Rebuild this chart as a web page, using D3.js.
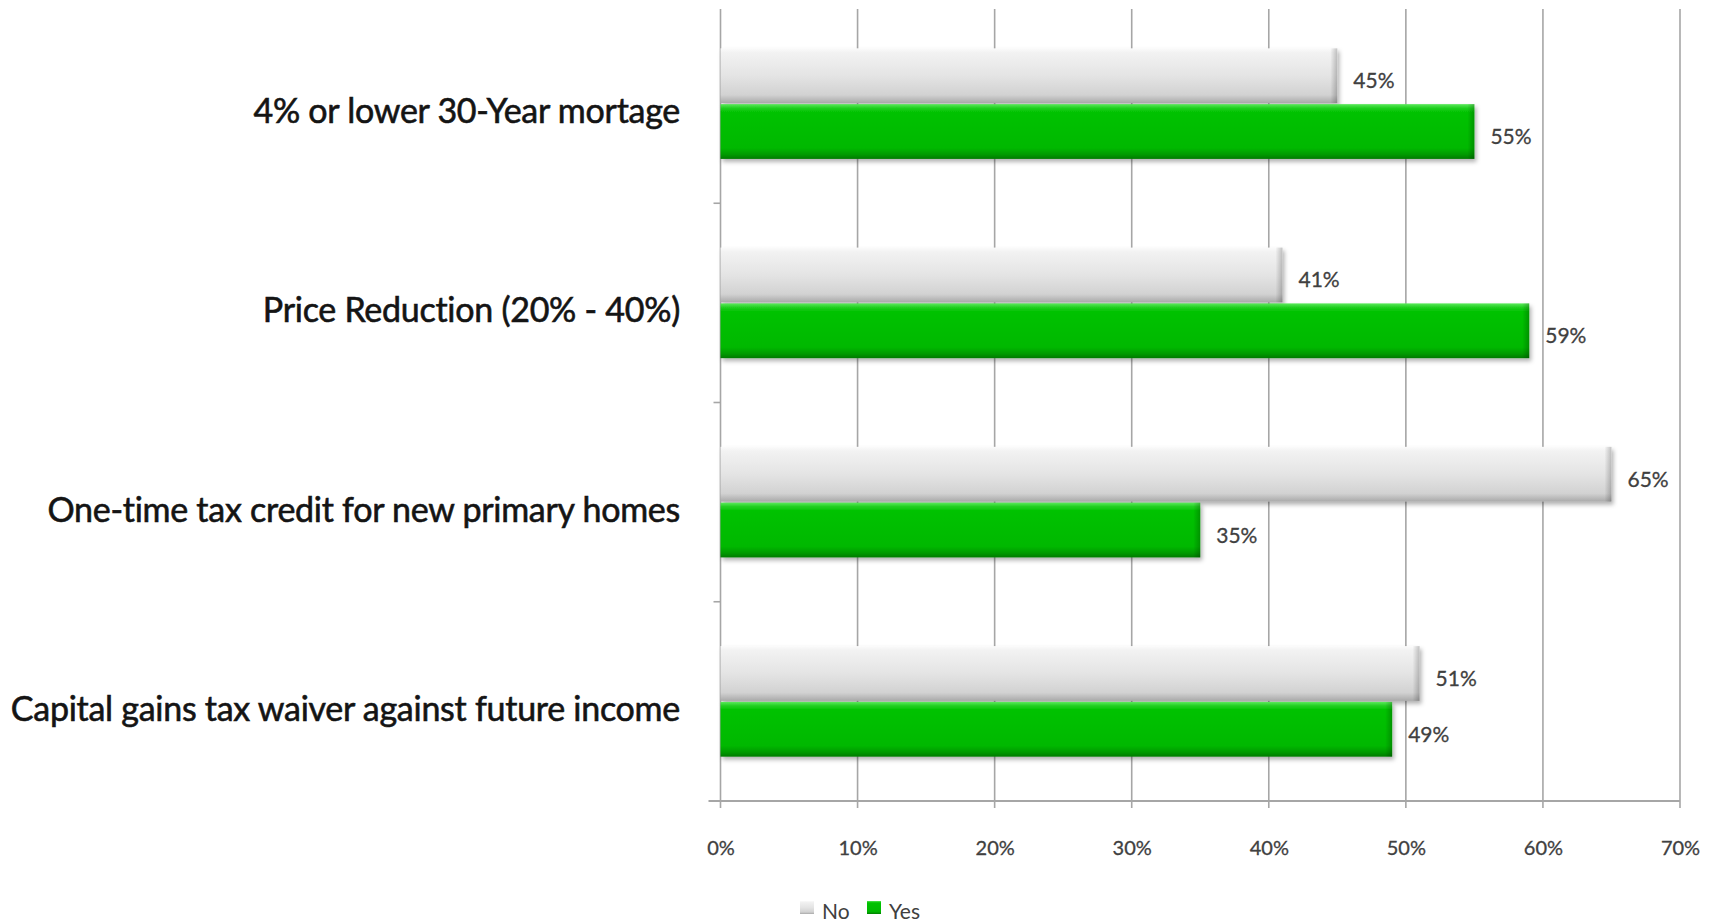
<!DOCTYPE html>
<html><head><meta charset="utf-8">
<script src="https://cdn.jsdelivr.net/npm/d3@7"></script>
<style>
html,body{margin:0;padding:0;background:#fff;}
svg{display:block;}
</style></head>
<body>
<svg id="chart" width="1715" height="924"></svg>
<script>
const categories = ["4% or lower 30-Year mortage", "Price Reduction (20% - 40%)", "One-time tax credit for new primary homes", "Capital gains tax waiver against future income"];
const seriesNames = ["No", "Yes"];
const noValues = [45, 41, 65, 51];
const yesValues = [55, 59, 35, 49];
const xTicks = [0, 10, 20, 30, 40, 50, 60, 70];

const svg = d3.select("#chart");
const x0 = 720.5, x1 = 1680, yTop = 4, yBot = 801, gridTop = 9;

const x = d3.scaleLinear().domain([0, 70]).range([x0, x1]);
const y0 = d3.scaleBand().domain(categories).range([yTop, yBot]).paddingInner(0.44).paddingOuter(0.22);
const y1 = d3.scaleBand().domain(seriesNames).range([0, y0.bandwidth()]).padding(0);

const defs = svg.append("defs");
function vgrad(id, stops){
  const g = defs.append("linearGradient").attr("id", id).attr("x1",0).attr("y1",0).attr("x2",0).attr("y2",1);
  stops.forEach(s => g.append("stop").attr("offset", s[0]).attr("stop-color", s[1]));
}
vgrad("gNo", [[0,"#fbfbfb"],[0.08,"#f2f2f2"],[0.5,"#e4e4e4"],[0.85,"#d2d2d2"],[1,"#a9a9a9"]]);
vgrad("gYes", [[0,"#5cea5c"],[0.07,"#22d022"],[0.15,"#00c200"],[0.8,"#00b800"],[0.92,"#009a00"],[1,"#007a00"]]);
const hg = defs.append("linearGradient").attr("id","gEnd").attr("x1",0).attr("y1",0).attr("x2",1).attr("y2",0);
hg.append("stop").attr("offset",0).attr("stop-color","#000").attr("stop-opacity",0);
hg.append("stop").attr("offset",1).attr("stop-color","#000").attr("stop-opacity",0.22);
const f = defs.append("filter").attr("id","shadow").attr("x","-5%").attr("y","-20%").attr("width","110%").attr("height","150%");
f.append("feDropShadow").attr("dx",2).attr("dy",3).attr("stdDeviation",2).attr("flood-color","#000").attr("flood-opacity",0.3);

// gridlines
const xAxis = d3.axisBottom(x).tickValues(xTicks).tickFormat(d => d + "%").tickSize(0);
svg.append("g").selectAll("line.grid").data(xTicks.slice(1)).join("line")
  .attr("x1", d => x(d)).attr("x2", d => x(d)).attr("y1", gridTop).attr("y2", yBot + 7)
  .attr("stroke", "#a6a6a6").attr("stroke-width", 1.6);

// left axis line
svg.append("line").attr("x1", x0).attr("x2", x0).attr("y1", gridTop).attr("y2", yBot + 7)
  .attr("stroke", "#a6a6a6").attr("stroke-width", 1.6);
// category separator ticks
const step = y0.step();
const sepY = d3.range(1, categories.length).map(i => yTop + step * i);
svg.append("g").selectAll("line").data(sepY).join("line")
  .attr("x1", x0 - 7).attr("x2", x0).attr("y1", d => d).attr("y2", d => d)
  .attr("stroke", "#a6a6a6").attr("stroke-width", 1.6);

// bottom axis
const gx = svg.append("g").attr("transform", `translate(0,${yBot})`).call(xAxis);
gx.select(".domain").attr("stroke", "#a6a6a6").attr("stroke-width", 2.2).attr("d", `M${x0-12},0H${x1}`);
gx.selectAll(".tick text").attr("font-family", "Lato, 'Open Sans', sans-serif").attr("font-size", 20)
  .attr("fill", "#404040").attr("stroke", "#404040").attr("stroke-width", 0.3)
  .attr("dy", 0).attr("y", 46).attr("dominant-baseline", "central");

// bars
const data = categories.map((c, i) => ({cat: c, vals: [{s: "No", v: noValues[i]}, {s: "Yes", v: yesValues[i]}]}));
const groups = svg.append("g").selectAll("g").data(data).join("g")
  .attr("transform", d => `translate(0,${y0(d.cat)})`);
const bars = groups.selectAll("g.bar").data(d => d.vals).join("g").attr("class","bar");
bars.append("rect")
  .attr("x", x0).attr("y", d => y1(d.s) + 0.5)
  .attr("width", d => x(d.v) - x0).attr("height", y1.bandwidth() - 1)
  .attr("fill", d => d.s === "No" ? "url(#gNo)" : "url(#gYes)")
  .attr("filter", "url(#shadow)");
bars.append("rect")
  .attr("x", d => x(d.v) - 7).attr("y", d => y1(d.s) + 0.5)
  .attr("width", 7).attr("height", y1.bandwidth() - 1)
  .attr("fill", "url(#gEnd)");
bars.append("text")
  .attr("x", d => x(d.v) + 16).attr("y", d => y1(d.s) + y1.bandwidth() / 2 + 4)
  .attr("dominant-baseline", "central")
  .attr("font-family", "Lato, 'Open Sans', sans-serif").attr("font-size", 21)
  .attr("fill", "#404040").attr("stroke", "#404040").attr("stroke-width", 0.3)
  .text(d => d.v + "%");

// category labels
const catLabels = svg.append("g").selectAll("text").data(categories).join("text")
  .attr("x", 680).attr("y", d => y0(d) + y0.bandwidth() / 2 + 6)
  .attr("text-anchor", "end").attr("dominant-baseline", "central")
  .attr("font-family", "Lato, 'Open Sans', sans-serif").attr("font-size", 34)
  .attr("fill", "#141414").attr("stroke", "#141414").attr("stroke-width", 0.6)
  .text(d => d);
// fit widest label to the reference width via letter spacing
const widest = categories[3];
const node = catLabels.filter(d => d === widest).node();
const w = node.getComputedTextLength();
const target = 669;
const ls = (target - w) / widest.length;
catLabels.attr("letter-spacing", ls.toFixed(2) + "px");

// legend
const legend = svg.append("g");
const legItems = [{s: "No", fill: "url(#gNo)", x: 800, tx: 822}, {s: "Yes", fill: "url(#gYes)", x: 867, tx: 889}];
legItems.forEach(it => {
  legend.append("rect").attr("x", it.x).attr("y", 901).attr("width", 14).attr("height", 13)
    .attr("fill", it.fill);
  legend.append("text").attr("x", it.tx).attr("y", 910).attr("dominant-baseline", "central")
    .attr("font-family", "Lato, 'Open Sans', sans-serif").attr("font-size", 21).attr("fill", "#404040").text(it.s);
});
</script>
</body></html>
